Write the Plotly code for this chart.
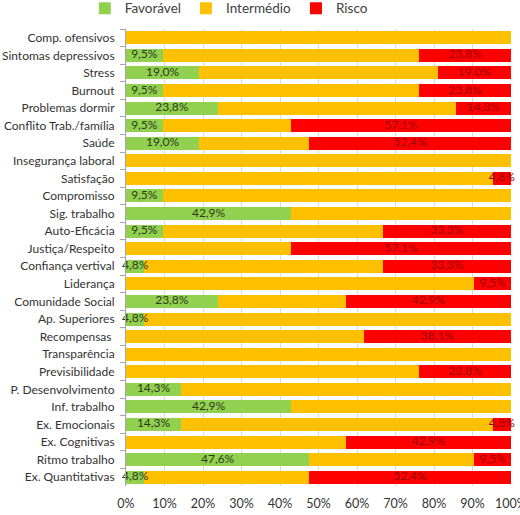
import plotly.graph_objects as go

categories = [
    "Comp. ofensivos", "Sintomas depressivos", "Stress", "Burnout", "Problemas dormir",
    "Conflito Trab./família", "Saúde", "Insegurança laboral", "Satisfação", "Compromisso",
    "Sig. trabalho", "Auto-Eficácia", "Justiça/Respeito", "Confiança vertival", "Liderança",
    "Comunidade Social", "Ap. Superiores", "Recompensas ", "Transparência", "Previsibilidade",
    "P. Desenvolvimento", "Inf. trabalho", "Ex. Emocionais", "Ex. Cognitivas", "Ritmo trabalho",
    "Ex. Quantitativas",
]
favoravel = [0, 9.5, 19.0, 9.5, 23.8, 9.5, 19.0, 0, 0, 9.5, 42.9, 9.5, 0, 4.8, 0,
             23.8, 4.8, 0, 0, 0, 14.3, 42.9, 14.3, 0, 47.6, 4.8]
intermedio = [100, 66.7, 62.0, 66.7, 61.9, 33.4, 28.6, 100, 95.2, 90.5, 57.1, 57.2, 42.9, 61.9, 90.5,
              33.3, 95.2, 61.9, 100, 76.2, 85.7, 57.1, 80.9, 57.1, 42.9, 42.8]
risco = [0, 23.8, 19.0, 23.8, 14.3, 57.1, 52.4, 0, 4.8, 0, 0, 33.3, 57.1, 33.3, 9.5,
         42.9, 0, 38.1, 0, 23.8, 0, 0, 4.8, 42.9, 9.5, 52.4]
x_ticks = [0, 10, 20, 30, 40, 50, 60, 70, 80, 90, 100]
x_tick_labels = ["0%", "10%", "20%", "30%", "40%", "50%", "60%", "70%", "80%", "90%", "100%"]


def fmt(v):
    return ("%.1f%%" % v).replace(".", ",") if v > 0 else ""


FONT = "Lato"
fig = go.Figure()
fig.add_trace(go.Bar(
    y=categories, x=favoravel, orientation="h", name="Favorável",
    marker=dict(color="#92D050", line=dict(width=0)),
))
fig.add_trace(go.Bar(
    y=categories, x=intermedio, orientation="h", name="Intermédio",
    marker=dict(color="#FFC000", line=dict(width=0)),
))
fig.add_trace(go.Bar(
    y=categories, x=risco, orientation="h", name="Risco",
    marker=dict(color="#FF0000", line=dict(width=0)),
))

# value labels drawn on top of all bars, centred in their segments
fav_pos = [f / 2 for f in favoravel]
risk_pos = [100 - r / 2 for r in risco]
fig.add_trace(go.Scatter(
    y=categories, x=fav_pos, mode="text", text=[fmt(v) for v in favoravel],
    textposition="middle center", textfont=dict(color="#2b3a1a", size=12, family=FONT),
    showlegend=False, hoverinfo="skip", cliponaxis=False,
))
fig.add_trace(go.Scatter(
    y=categories, x=risk_pos, mode="text", text=[fmt(v) for v in risco],
    textposition="middle center", textfont=dict(color="#9a0000", size=12, family=FONT),
    showlegend=False, hoverinfo="skip", cliponaxis=False,
))

fig.update_layout(
    barmode="stack", bargap=0.26,
    width=520, height=515,
    margin=dict(l=126, r=9, t=29, b=29, autoexpand=False),
    paper_bgcolor="white", plot_bgcolor="white",
    font=dict(family=FONT, size=12, color="#333333"),
    legend=dict(orientation="h", xref="container", yref="paper", x=0.44, xanchor="center",
                y=1.079, yanchor="top", traceorder="normal", itemwidth=30,
                font=dict(size=13.5, family=FONT, color="#404040"), tracegroupgap=0),
    showlegend=True,
)
fig.update_xaxes(range=[0, 100], tickmode="array", tickvals=x_ticks, ticktext=x_tick_labels,
                 showgrid=True, gridcolor="#d9d9d9", gridwidth=1, zeroline=False, showline=False,
                 ticklabeloverflow="allow", ticklabelstandoff=8, automargin=False,
                 tickfont=dict(size=12.5, family=FONT, color="#333333"), fixedrange=True)
fig.update_yaxes(range=[len(categories) - 0.5, -0.5], showline=True, linecolor="#a6a6a6", linewidth=1,
                 ticks="outside", tickson="boundaries", ticklen=5, tickcolor="#a6a6a6",
                 ticklabelstandoff=8, automargin=False,
                 tickfont=dict(size=12, family=FONT, color="#333333"), showgrid=False)

fig.write_html("out.html")
